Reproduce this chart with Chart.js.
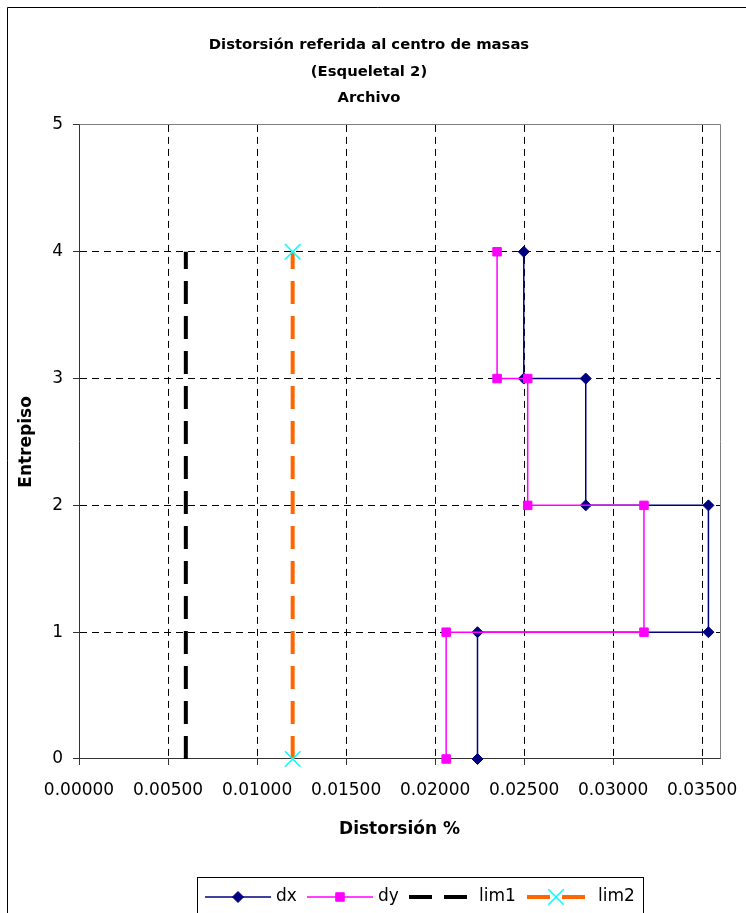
<!DOCTYPE html>
<html>
<head>
<meta charset="utf-8">
<script src="https://cdn.jsdelivr.net/npm/chart.js@4.4.1/dist/chart.umd.min.js"></script>
<style>
  html, body { margin: 0; padding: 0; background: #fff; }
  #wrap { width: 746px; height: 913px; position: relative; }
</style>
</head>
<body>
<div id="wrap"><canvas id="c" width="746" height="913"></canvas></div>
<script>
// ---- data ----
const titleLines = ['Distorsión referida al centro de masas', '(Esqueletal 2)', 'Archivo'];
const xAxisTitle = 'Distorsión %';
const yAxisTitle = 'Entrepiso';
const xTickValues = [0, 0.005, 0.010, 0.015, 0.020, 0.025, 0.030, 0.035];
const yTickValues = [0, 1, 2, 3, 4, 5];
const seriesNames = ['dx', 'dy', 'lim1', 'lim2'];

const dxX = [0.02238, 0.02238, 0.03535, 0.03535, 0.02846, 0.02846, 0.02498, 0.02498];
const dxY = [0, 1, 1, 2, 2, 3, 3, 4];
const dyX = [0.02062, 0.02062, 0.03173, 0.03173, 0.02520, 0.02520, 0.02348, 0.02348];
const dyY = [0, 1, 1, 2, 2, 3, 3, 4];
const lim1X = [0.006, 0.006];
const lim1Y = [0, 4];
const lim2X = [0.012, 0.012];
const lim2Y = [0, 4];

const toPts = (xs, ys) => xs.map((x, i) => ({ x: x, y: ys[i] }));

const FONT = 'DejaVu Sans';

// ---- plugins ----
const framePlugin = {
  id: 'frame',
  beforeDraw(chart) {
    const ctx = chart.ctx;
    ctx.save();
    ctx.fillStyle = '#fff';
    ctx.fillRect(0, 0, chart.width, chart.height);
    ctx.strokeStyle = '#000';
    ctx.lineWidth = 1;
    ctx.beginPath();
    ctx.moveTo(7.5, chart.height + 2);
    ctx.lineTo(7.5, 7.5);
    ctx.lineTo(chart.width + 2, 7.5);
    ctx.stroke();
    ctx.restore();
  },
  beforeDatasetsDraw(chart) {
    const a = chart.chartArea;
    const ctx = chart.ctx;
    const al = (v) => Chart.helpers._alignPixel(chart, v, 1);
    ctx.save();
    ctx.strokeStyle = '#808080';
    ctx.lineWidth = 1;
    ctx.beginPath();
    ctx.moveTo(al(a.left), al(a.top));
    ctx.lineTo(al(a.right), al(a.top));
    ctx.lineTo(al(a.right), al(a.bottom));
    ctx.stroke();
    ctx.restore();
  }
};

const legendPlugin = {
  id: 'excelLegend',
  afterDraw(chart) {
    const ctx = chart.ctx;
    const box = { x: 197.5, y: 877.5, w: 446, h: 40 };
    const cy = 897;
    const samples = [
      { x0: 205, x1: 271, tx: 276 },
      { x0: 307, x1: 373, tx: 378 },
      { x0: 409, x1: 467, tx: 479 },
      { x0: 527, x1: 585, tx: 598 }
    ];
    ctx.save();
    ctx.fillStyle = '#fff';
    ctx.fillRect(box.x, box.y, box.w, box.h);
    ctx.strokeStyle = '#000';
    ctx.lineWidth = 1;
    ctx.strokeRect(box.x, box.y, box.w, box.h);
    chart.data.datasets.forEach((ds, i) => {
      const s = samples[i];
      ctx.save();
      ctx.strokeStyle = ds.borderColor;
      ctx.lineWidth = ds.borderWidth;
      ctx.setLineDash(ds.borderDash || []);
      ctx.beginPath();
      ctx.moveTo(s.x0, cy);
      ctx.lineTo(s.x1, cy);
      ctx.stroke();
      ctx.setLineDash([]);
      if (ds.pointRadius > 0) {
        ctx.fillStyle = ds.pointBackgroundColor;
        ctx.strokeStyle = ds.pointBorderColor;
        ctx.lineWidth = ds.pointBorderWidth;
        Chart.helpers.drawPoint(ctx, {
          pointStyle: ds.pointStyle,
          radius: ds.pointRadius,
          rotation: 0,
          borderWidth: ds.pointBorderWidth
        }, (s.x0 + s.x1) / 2, cy);
      }
      ctx.restore();
      ctx.fillStyle = '#000';
      ctx.font = '17px "' + FONT + '"';
      ctx.textBaseline = 'middle';
      ctx.textAlign = 'left';
      ctx.fillText(ds.label, s.tx, cy);
    });
    ctx.restore();
  }
};

const data = {
  datasets: [
    {
      label: seriesNames[0],
      data: toPts(dxX, dxY),
      showLine: true,
      borderColor: '#000080',
      borderWidth: 1.5,
      pointStyle: 'rectRot',
      pointRadius: 5.5,
      pointBackgroundColor: '#000080',
      pointBorderColor: '#000080',
      pointBorderWidth: 1,
      order: 2,
      clip: false
    },
    {
      label: seriesNames[1],
      data: toPts(dyX, dyY),
      showLine: true,
      borderColor: '#FF00FF',
      borderWidth: 1.5,
      pointStyle: 'rect',
      pointRadius: 6,
      pointBackgroundColor: '#FF00FF',
      pointBorderColor: '#FF00FF',
      pointBorderWidth: 1,
      order: 1,
      clip: false
    },
    {
      label: seriesNames[2],
      data: toPts(lim1X, lim1Y),
      showLine: true,
      borderColor: '#000000',
      borderWidth: 4,
      borderDash: [23, 12],
      borderCapStyle: 'butt',
      pointRadius: 0,
      order: 3,
      clip: false
    },
    {
      label: seriesNames[3],
      data: toPts(lim2X, lim2Y),
      showLine: true,
      borderColor: '#FF6600',
      borderWidth: 4,
      borderDash: [23, 12],
      borderCapStyle: 'butt',
      pointStyle: 'crossRot',
      pointRadius: 11,
      pointBackgroundColor: '#00FFFF',
      pointBorderColor: '#00FFFF',
      pointBorderWidth: 1.5,
      order: 4,
      clip: false
    }
  ]
};

const chart = new Chart(document.getElementById('c'), {
  type: 'scatter',
  data: data,
  plugins: [framePlugin, legendPlugin],
  options: {
    responsive: false,
    animation: false,
    devicePixelRatio: 1,
    layout: { padding: { left: 18, right: 26, top: 0, bottom: 69 } },
    plugins: {
      legend: { display: false },
      tooltip: { enabled: false },
      title: {
        display: true,
        text: titleLines,
        color: '#000',
        font: { family: FONT, size: 14.8, weight: 'bold', lineHeight: 1.8 },
        padding: { top: 32, bottom: 13 }
      }
    },
    scales: {
      x: {
        type: 'linear',
        min: 0,
        max: 0.036,
        afterBuildTicks: (s) => { s.ticks = xTickValues.map(v => ({ value: v })); },
        afterFit: (s) => { s.height = 85; s.paddingLeft = 0; s.paddingRight = 0; },
        ticks: {
          color: '#000',
          font: { family: FONT, size: 17 },
          padding: 15,
          maxRotation: 0,
          autoSkip: false,
          callback: (v) => Number(v).toFixed(5)
        },
        grid: {
          color: (c) => (c.tick && c.tick.value === 0 ? 'rgba(0,0,0,0)' : '#000'),
          lineWidth: 1,
          tickLength: 6,
          tickColor: '#333',
          drawTicks: true
        },
        border: { display: true, color: '#333', width: 1, dash: [7, 5] },
        title: {
          display: true,
          text: xAxisTitle,
          color: '#000',
          font: { family: FONT, size: 17, weight: 'bold', lineHeight: 1.2 },
          padding: { top: 0, bottom: 4 }
        }
      },
      y: {
        type: 'linear',
        min: 0,
        max: 5,
        afterBuildTicks: (s) => { s.ticks = yTickValues.map(v => ({ value: v })); },
        afterFit: (s) => { s.width = 61; s.paddingTop = 0; s.paddingBottom = 0; },
        ticks: {
          color: '#000',
          font: { family: FONT, size: 17 },
          padding: 10,
          autoSkip: false,
          callback: (v) => String(v)
        },
        grid: {
          color: (c) => (c.tick && (c.tick.value === 5 || c.tick.value === 0) ? 'rgba(0,0,0,0)' : '#000'),
          lineWidth: 1,
          tickLength: 6,
          tickColor: '#333',
          drawTicks: true
        },
        border: { display: true, color: '#333', width: 1, dash: [7, 5] },
        title: {
          display: true,
          text: yAxisTitle,
          color: '#000',
          font: { family: FONT, size: 17, weight: 'bold', lineHeight: 0.8 },
          padding: { top: 2, bottom: 0 }
        }
      }
    }
  }
});
</script>
</body>
</html>
